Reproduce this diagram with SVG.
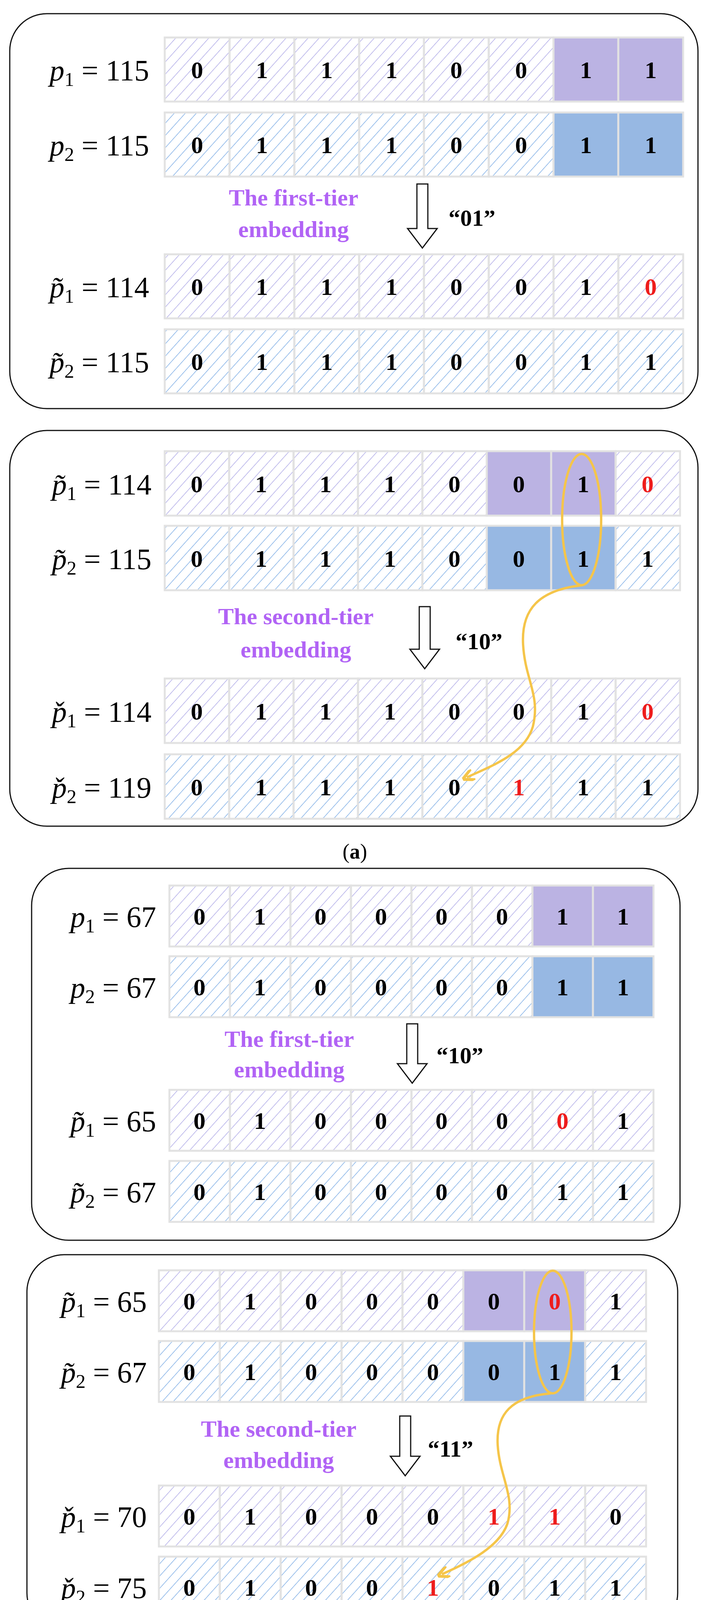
<svg xmlns="http://www.w3.org/2000/svg" width="1806" height="4282" viewBox="0 0 1806 4282">
<defs>
<pattern id="hp" patternUnits="userSpaceOnUse" width="21" height="21" patternTransform="rotate(42)"><line x1="0" y1="0" x2="0" y2="21" stroke="#a59fe4" stroke-width="2.6"/></pattern>
<pattern id="hb" patternUnits="userSpaceOnUse" width="21" height="21" patternTransform="rotate(42)"><line x1="0" y1="0" x2="0" y2="21" stroke="#6ea3e2" stroke-width="2.6"/></pattern>
<marker id="ya" viewBox="0 0 10 10" refX="6" refY="5" markerWidth="5" markerHeight="5" orient="auto"><path d="M0,0 L10,5 L0,10" fill="none" stroke="#f5c54a" stroke-width="2.5"/></marker>
</defs>
<style>
.box{fill:none;stroke:#111;stroke-width:3}
.cp{fill:url(#hp);stroke:#e2e2e2;stroke-width:5}
.cb{fill:url(#hb);stroke:#e2e2e2;stroke-width:5}
.sp{fill:#bbb3e3;stroke:#e2e2e2;stroke-width:5}
.sb{fill:#97b8e3;stroke:#e2e2e2;stroke-width:5}
.bit{font-family:"Liberation Serif",serif;font-weight:bold;font-size:62px;text-anchor:middle;fill:#000}
.red{fill:#ee1c1c}
.lab{font-family:"Liberation Serif",serif;font-size:76px;text-anchor:end;fill:#000}
.it{font-style:italic}
.sub{font-size:50px}
.pur{font-family:"Liberation Serif",serif;font-weight:bold;font-size:60px;text-anchor:middle;fill:#b163f5}
.q{font-family:"Liberation Serif",serif;font-weight:bold;font-size:60px;text-anchor:middle;fill:#000}
.arr{fill:#fff;stroke:#111;stroke-width:3}
.yel{fill:none;stroke:#f5c54a;stroke-width:6}
.cap{font-family:"Liberation Serif",serif;font-size:54px;text-anchor:middle;fill:#000}
</style>

<!-- Box 1 -->
<g id="box1">
<rect class="box" x="25" y="35" width="1763" height="1011" rx="95"/>
<g id="b1r1">
<rect class="cp" x="422" y="96" width="166" height="164"/><rect class="cp" x="588" y="96" width="166" height="164"/><rect class="cp" x="754" y="96" width="166" height="164"/><rect class="cp" x="920" y="96" width="166" height="164"/><rect class="cp" x="1086" y="96" width="166" height="164"/><rect class="cp" x="1252" y="96" width="166" height="164"/><rect class="sp" x="1418" y="96" width="166" height="164"/><rect class="sp" x="1584" y="96" width="166" height="164"/>
<text class="bit" y="200"><tspan x="505">0</tspan><tspan x="671">1</tspan><tspan x="837">1</tspan><tspan x="1003">1</tspan><tspan x="1169">0</tspan><tspan x="1335">0</tspan><tspan x="1501">1</tspan><tspan x="1667">1</tspan></text>
</g>
<g id="b1r2">
<rect class="cb" x="422" y="288" width="166" height="164"/><rect class="cb" x="588" y="288" width="166" height="164"/><rect class="cb" x="754" y="288" width="166" height="164"/><rect class="cb" x="920" y="288" width="166" height="164"/><rect class="cb" x="1086" y="288" width="166" height="164"/><rect class="cb" x="1252" y="288" width="166" height="164"/><rect class="sb" x="1418" y="288" width="166" height="164"/><rect class="sb" x="1584" y="288" width="166" height="164"/>
<text class="bit" y="392"><tspan x="505">0</tspan><tspan x="671">1</tspan><tspan x="837">1</tspan><tspan x="1003">1</tspan><tspan x="1169">0</tspan><tspan x="1335">0</tspan><tspan x="1501">1</tspan><tspan x="1667">1</tspan></text>
</g>
<g id="b1r3">
<rect class="cp" x="422" y="651" width="166" height="164"/><rect class="cp" x="588" y="651" width="166" height="164"/><rect class="cp" x="754" y="651" width="166" height="164"/><rect class="cp" x="920" y="651" width="166" height="164"/><rect class="cp" x="1086" y="651" width="166" height="164"/><rect class="cp" x="1252" y="651" width="166" height="164"/><rect class="cp" x="1418" y="651" width="166" height="164"/><rect class="cp" x="1584" y="651" width="166" height="164"/>
<text class="bit" y="755"><tspan x="505">0</tspan><tspan x="671">1</tspan><tspan x="837">1</tspan><tspan x="1003">1</tspan><tspan x="1169">0</tspan><tspan x="1335">0</tspan><tspan x="1501">1</tspan><tspan x="1667" class="red">0</tspan></text>
</g>
<g id="b1r4">
<rect class="cb" x="422" y="843" width="166" height="164"/><rect class="cb" x="588" y="843" width="166" height="164"/><rect class="cb" x="754" y="843" width="166" height="164"/><rect class="cb" x="920" y="843" width="166" height="164"/><rect class="cb" x="1086" y="843" width="166" height="164"/><rect class="cb" x="1252" y="843" width="166" height="164"/><rect class="cb" x="1418" y="843" width="166" height="164"/><rect class="cb" x="1584" y="843" width="166" height="164"/>
<text class="bit" y="947"><tspan x="505">0</tspan><tspan x="671">1</tspan><tspan x="837">1</tspan><tspan x="1003">1</tspan><tspan x="1169">0</tspan><tspan x="1335">0</tspan><tspan x="1501">1</tspan><tspan x="1667">1</tspan></text>
</g>
<text class="lab" x="382" y="206"><tspan class="it">p</tspan><tspan class="sub" dy="14">1</tspan><tspan dy="-14"> = 115</tspan></text>
<text class="lab" x="382" y="398"><tspan class="it">p</tspan><tspan class="sub" dy="14">2</tspan><tspan dy="-14"> = 115</tspan></text>
<text class="lab" x="382" y="761"><tspan class="it">p̃</tspan><tspan class="sub" dy="14">1</tspan><tspan dy="-14"> = 114</tspan></text>
<text class="lab" x="382" y="953"><tspan class="it">p̃</tspan><tspan class="sub" dy="14">2</tspan><tspan dy="-14"> = 115</tspan></text>
<text class="pur" x="752" y="526">The first-tier</text>
<text class="pur" x="752" y="607">embedding</text>
<text class="q" x="1209" y="578">“01”</text>
</g>

<!-- Box 2 -->
<g id="box2">
<rect class="box" x="25" y="1102" width="1763" height="1013" rx="95"/>
<g id="b2r1">
<rect class="cp" x="422" y="1155" width="165" height="165"/><rect class="cp" x="587" y="1155" width="165" height="165"/><rect class="cp" x="752" y="1155" width="165" height="165"/><rect class="cp" x="917" y="1155" width="165" height="165"/><rect class="cp" x="1082" y="1155" width="165" height="165"/><rect class="sp" x="1247" y="1155" width="165" height="165"/><rect class="sp" x="1412" y="1155" width="165" height="165"/><rect class="cp" x="1577" y="1155" width="165" height="165"/>
<text class="bit" y="1260"><tspan x="504">0</tspan><tspan x="669">1</tspan><tspan x="834">1</tspan><tspan x="999">1</tspan><tspan x="1164">0</tspan><tspan x="1329">0</tspan><tspan x="1494">1</tspan><tspan x="1659" class="red">0</tspan></text>
</g>
<g id="b2r2">
<rect class="cb" x="422" y="1346" width="165" height="165"/><rect class="cb" x="587" y="1346" width="165" height="165"/><rect class="cb" x="752" y="1346" width="165" height="165"/><rect class="cb" x="917" y="1346" width="165" height="165"/><rect class="cb" x="1082" y="1346" width="165" height="165"/><rect class="sb" x="1247" y="1346" width="165" height="165"/><rect class="sb" x="1412" y="1346" width="165" height="165"/><rect class="cb" x="1577" y="1346" width="165" height="165"/>
<text class="bit" y="1451"><tspan x="504">0</tspan><tspan x="669">1</tspan><tspan x="834">1</tspan><tspan x="999">1</tspan><tspan x="1164">0</tspan><tspan x="1329">0</tspan><tspan x="1494">1</tspan><tspan x="1659">1</tspan></text>
</g>
<g id="b2r3">
<rect class="cp" x="422" y="1737" width="165" height="165"/><rect class="cp" x="587" y="1737" width="165" height="165"/><rect class="cp" x="752" y="1737" width="165" height="165"/><rect class="cp" x="917" y="1737" width="165" height="165"/><rect class="cp" x="1082" y="1737" width="165" height="165"/><rect class="cp" x="1247" y="1737" width="165" height="165"/><rect class="cp" x="1412" y="1737" width="165" height="165"/><rect class="cp" x="1577" y="1737" width="165" height="165"/>
<text class="bit" y="1842"><tspan x="504">0</tspan><tspan x="669">1</tspan><tspan x="834">1</tspan><tspan x="999">1</tspan><tspan x="1164">0</tspan><tspan x="1329">0</tspan><tspan x="1494">1</tspan><tspan x="1659" class="red">0</tspan></text>
</g>
<g id="b2r4">
<rect class="cb" x="422" y="1931" width="165" height="165"/><rect class="cb" x="587" y="1931" width="165" height="165"/><rect class="cb" x="752" y="1931" width="165" height="165"/><rect class="cb" x="917" y="1931" width="165" height="165"/><rect class="cb" x="1082" y="1931" width="165" height="165"/><rect class="cb" x="1247" y="1931" width="165" height="165"/><rect class="cb" x="1412" y="1931" width="165" height="165"/><rect class="cb" x="1577" y="1931" width="165" height="165"/>
<text class="bit" y="2036"><tspan x="504">0</tspan><tspan x="669">1</tspan><tspan x="834">1</tspan><tspan x="999">1</tspan><tspan x="1164">0</tspan><tspan x="1329" class="red">1</tspan><tspan x="1494">1</tspan><tspan x="1659">1</tspan></text>
</g>
<text class="lab" x="388" y="1266"><tspan class="it">p̃</tspan><tspan class="sub" dy="14">1</tspan><tspan dy="-14"> = 114</tspan></text>
<text class="lab" x="388" y="1457"><tspan class="it">p̃</tspan><tspan class="sub" dy="14">2</tspan><tspan dy="-14"> = 115</tspan></text>
<text class="lab" x="388" y="1848"><tspan class="it">p̌</tspan><tspan class="sub" dy="14">1</tspan><tspan dy="-14"> = 114</tspan></text>
<text class="lab" x="388" y="2042"><tspan class="it">p̌</tspan><tspan class="sub" dy="14">2</tspan><tspan dy="-14"> = 119</tspan></text>
<text class="pur" x="758" y="1598">The second-tier</text>
<text class="pur" x="758" y="1683">embedding</text>
<text class="q" x="1227" y="1662">“10”</text>
</g>

<text class="cap" x="909" y="2198">(<tspan font-weight="bold">a</tspan>)</text>

<!-- Box 3 -->
<g id="box3">
<rect class="box" x="81" y="2223" width="1661" height="952" rx="95"/>
<g id="b3r1">
<rect class="cp" x="434" y="2267" width="155" height="156"/><rect class="cp" x="589" y="2267" width="155" height="156"/><rect class="cp" x="744" y="2267" width="155" height="156"/><rect class="cp" x="899" y="2267" width="155" height="156"/><rect class="cp" x="1054" y="2267" width="155" height="156"/><rect class="cp" x="1209" y="2267" width="155" height="156"/><rect class="sp" x="1364" y="2267" width="155" height="156"/><rect class="sp" x="1519" y="2267" width="155" height="156"/>
<text class="bit" y="2367"><tspan x="511">0</tspan><tspan x="666">1</tspan><tspan x="821">0</tspan><tspan x="976">0</tspan><tspan x="1131">0</tspan><tspan x="1286">0</tspan><tspan x="1441">1</tspan><tspan x="1596">1</tspan></text>
</g>
<g id="b3r2">
<rect class="cb" x="434" y="2448" width="155" height="156"/><rect class="cb" x="589" y="2448" width="155" height="156"/><rect class="cb" x="744" y="2448" width="155" height="156"/><rect class="cb" x="899" y="2448" width="155" height="156"/><rect class="cb" x="1054" y="2448" width="155" height="156"/><rect class="cb" x="1209" y="2448" width="155" height="156"/><rect class="sb" x="1364" y="2448" width="155" height="156"/><rect class="sb" x="1519" y="2448" width="155" height="156"/>
<text class="bit" y="2548"><tspan x="511">0</tspan><tspan x="666">1</tspan><tspan x="821">0</tspan><tspan x="976">0</tspan><tspan x="1131">0</tspan><tspan x="1286">0</tspan><tspan x="1441">1</tspan><tspan x="1596">1</tspan></text>
</g>
<g id="b3r3">
<rect class="cp" x="434" y="2790" width="155" height="156"/><rect class="cp" x="589" y="2790" width="155" height="156"/><rect class="cp" x="744" y="2790" width="155" height="156"/><rect class="cp" x="899" y="2790" width="155" height="156"/><rect class="cp" x="1054" y="2790" width="155" height="156"/><rect class="cp" x="1209" y="2790" width="155" height="156"/><rect class="cp" x="1364" y="2790" width="155" height="156"/><rect class="cp" x="1519" y="2790" width="155" height="156"/>
<text class="bit" y="2890"><tspan x="511">0</tspan><tspan x="666">1</tspan><tspan x="821">0</tspan><tspan x="976">0</tspan><tspan x="1131">0</tspan><tspan x="1286">0</tspan><tspan x="1441" class="red">0</tspan><tspan x="1596">1</tspan></text>
</g>
<g id="b3r4">
<rect class="cb" x="434" y="2972" width="155" height="156"/><rect class="cb" x="589" y="2972" width="155" height="156"/><rect class="cb" x="744" y="2972" width="155" height="156"/><rect class="cb" x="899" y="2972" width="155" height="156"/><rect class="cb" x="1054" y="2972" width="155" height="156"/><rect class="cb" x="1209" y="2972" width="155" height="156"/><rect class="cb" x="1364" y="2972" width="155" height="156"/><rect class="cb" x="1519" y="2972" width="155" height="156"/>
<text class="bit" y="3072"><tspan x="511">0</tspan><tspan x="666">1</tspan><tspan x="821">0</tspan><tspan x="976">0</tspan><tspan x="1131">0</tspan><tspan x="1286">0</tspan><tspan x="1441">1</tspan><tspan x="1596">1</tspan></text>
</g>
<text class="lab" x="400" y="2373"><tspan class="it">p</tspan><tspan class="sub" dy="14">1</tspan><tspan dy="-14"> = 67</tspan></text>
<text class="lab" x="400" y="2554"><tspan class="it">p</tspan><tspan class="sub" dy="14">2</tspan><tspan dy="-14"> = 67</tspan></text>
<text class="lab" x="400" y="2896"><tspan class="it">p̃</tspan><tspan class="sub" dy="14">1</tspan><tspan dy="-14"> = 65</tspan></text>
<text class="lab" x="400" y="3078"><tspan class="it">p̃</tspan><tspan class="sub" dy="14">2</tspan><tspan dy="-14"> = 67</tspan></text>
<text class="pur" x="741" y="2680">The first-tier</text>
<text class="pur" x="741" y="2758">embedding</text>
<text class="q" x="1178" y="2722">“10”</text>
</g>

<!-- Box 4 -->
<g id="box4">
<rect class="box" x="69" y="3212" width="1667" height="961" rx="95"/>
<g id="b4r1">
<rect class="cp" x="407" y="3252" width="156" height="156"/><rect class="cp" x="563" y="3252" width="156" height="156"/><rect class="cp" x="719" y="3252" width="156" height="156"/><rect class="cp" x="875" y="3252" width="156" height="156"/><rect class="cp" x="1031" y="3252" width="156" height="156"/><rect class="sp" x="1187" y="3252" width="156" height="156"/><rect class="sp" x="1343" y="3252" width="156" height="156"/><rect class="cp" x="1499" y="3252" width="156" height="156"/>
<text class="bit" y="3352"><tspan x="485">0</tspan><tspan x="641">1</tspan><tspan x="797">0</tspan><tspan x="953">0</tspan><tspan x="1109">0</tspan><tspan x="1265">0</tspan><tspan x="1421" class="red">0</tspan><tspan x="1577">1</tspan></text>
</g>
<g id="b4r2">
<rect class="cb" x="407" y="3433" width="156" height="156"/><rect class="cb" x="563" y="3433" width="156" height="156"/><rect class="cb" x="719" y="3433" width="156" height="156"/><rect class="cb" x="875" y="3433" width="156" height="156"/><rect class="cb" x="1031" y="3433" width="156" height="156"/><rect class="sb" x="1187" y="3433" width="156" height="156"/><rect class="sb" x="1343" y="3433" width="156" height="156"/><rect class="cb" x="1499" y="3433" width="156" height="156"/>
<text class="bit" y="3533"><tspan x="485">0</tspan><tspan x="641">1</tspan><tspan x="797">0</tspan><tspan x="953">0</tspan><tspan x="1109">0</tspan><tspan x="1265">0</tspan><tspan x="1421">1</tspan><tspan x="1577">1</tspan></text>
</g>
<g id="b4r3">
<rect class="cp" x="407" y="3803" width="156" height="156"/><rect class="cp" x="563" y="3803" width="156" height="156"/><rect class="cp" x="719" y="3803" width="156" height="156"/><rect class="cp" x="875" y="3803" width="156" height="156"/><rect class="cp" x="1031" y="3803" width="156" height="156"/><rect class="cp" x="1187" y="3803" width="156" height="156"/><rect class="cp" x="1343" y="3803" width="156" height="156"/><rect class="cp" x="1499" y="3803" width="156" height="156"/>
<text class="bit" y="3903"><tspan x="485">0</tspan><tspan x="641">1</tspan><tspan x="797">0</tspan><tspan x="953">0</tspan><tspan x="1109">0</tspan><tspan x="1265" class="red">1</tspan><tspan x="1421" class="red">1</tspan><tspan x="1577">0</tspan></text>
</g>
<g id="b4r4">
<rect class="cb" x="407" y="3985" width="156" height="156"/><rect class="cb" x="563" y="3985" width="156" height="156"/><rect class="cb" x="719" y="3985" width="156" height="156"/><rect class="cb" x="875" y="3985" width="156" height="156"/><rect class="cb" x="1031" y="3985" width="156" height="156"/><rect class="cb" x="1187" y="3985" width="156" height="156"/><rect class="cb" x="1343" y="3985" width="156" height="156"/><rect class="cb" x="1499" y="3985" width="156" height="156"/>
<text class="bit" y="4085"><tspan x="485">0</tspan><tspan x="641">1</tspan><tspan x="797">0</tspan><tspan x="953">0</tspan><tspan x="1109" class="red">1</tspan><tspan x="1265">0</tspan><tspan x="1421">1</tspan><tspan x="1577">1</tspan></text>
</g>
<text class="lab" x="376" y="3358"><tspan class="it">p̃</tspan><tspan class="sub" dy="14">1</tspan><tspan dy="-14"> = 65</tspan></text>
<text class="lab" x="376" y="3539"><tspan class="it">p̃</tspan><tspan class="sub" dy="14">2</tspan><tspan dy="-14"> = 67</tspan></text>
<text class="lab" x="376" y="3909"><tspan class="it">p̌</tspan><tspan class="sub" dy="14">1</tspan><tspan dy="-14"> = 70</tspan></text>
<text class="lab" x="376" y="4091"><tspan class="it">p̌</tspan><tspan class="sub" dy="14">2</tspan><tspan dy="-14"> = 75</tspan></text>
<text class="pur" x="714" y="3678">The second-tier</text>
<text class="pur" x="714" y="3758">embedding</text>
<text class="q" x="1154" y="3729">“11”</text>
</g>

<text class="cap" x="909" y="4249">(<tspan font-weight="bold">b</tspan>)</text>

<g id="connectors">
<path class="arr" d="M1068,471 L1096,471 L1096,585 L1120,585 L1082,635 L1044,585 L1068,585 Z"/>
<path class="arr" d="M1074,1553 L1102,1553 L1102,1662 L1126,1662 L1088,1712 L1050,1662 L1074,1662 Z"/>
<path class="arr" d="M1042,2621 L1070,2621 L1070,2723 L1094,2723 L1056,2773 L1018,2723 L1042,2723 Z"/>
<path class="arr" d="M1024,3625 L1052,3625 L1052,3728 L1076,3728 L1038,3778 L1000,3728 L1024,3728 Z"/>
<ellipse class="yel" cx="1490" cy="1330" rx="50" ry="168"/>
<path class="yel" marker-end="url(#ya)" d="M1493,1498 C1380,1510 1335,1560 1340,1650 C1345,1740 1385,1780 1365,1860 C1345,1930 1260,1960 1196,1990"/>
<ellipse class="yel" cx="1416" cy="3410" rx="48" ry="157"/>
<path class="yel" marker-end="url(#ya)" d="M1412,3567 C1310,3575 1270,3620 1275,3700 C1280,3780 1320,3830 1300,3900 C1280,3960 1200,4000 1132,4030"/>
</g>
</svg>
